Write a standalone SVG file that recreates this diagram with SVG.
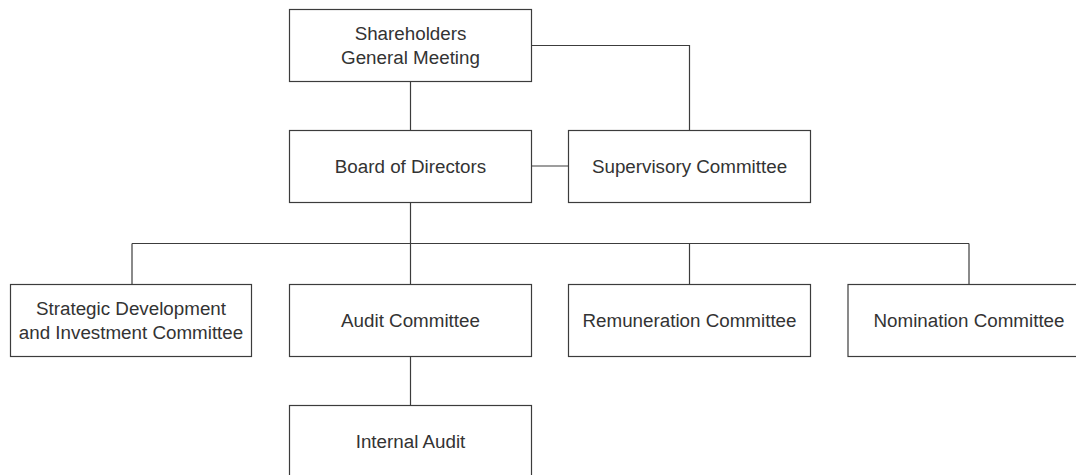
<svg xmlns="http://www.w3.org/2000/svg" width="1076" height="475" viewBox="0 0 1076 475">
  <style>
    .box { fill: #ffffff; stroke: #3c3c3c; stroke-width: 1.2; }
    .link { fill: none; stroke: #3c3c3c; stroke-width: 1.2; }
    .label { font-family: "Liberation Sans", Arial, Helvetica, sans-serif; font-size: 18.8px; fill: #333333; text-anchor: middle; }
  </style>
  <rect width="1076" height="475" fill="#ffffff"/>

  <!-- connectors -->
  <g id="connectors">
    <path class="link" d="M410.5 81.5 V130.5"/>
    <path class="link" d="M531.5 45.5 H689.5 V130.5"/>
    <path class="link" d="M531.5 166 H568.5"/>
    <path class="link" d="M410.5 202.5 V284.5"/>
    <path class="link" d="M132 243.5 H969"/>
    <path class="link" d="M132 243.5 V284.5"/>
    <path class="link" d="M689.5 243.5 V284.5"/>
    <path class="link" d="M969 243.5 V284.5"/>
    <path class="link" d="M410.5 356.5 V405.5"/>
  </g>

  <!-- nodes -->
  <g id="shareholders-general-meeting">
    <rect class="box" x="289.5" y="9.5" width="242" height="72"/>
    <text class="label" x="410.5" y="40">Shareholders</text>
    <text class="label" x="410.5" y="64.3">General Meeting</text>
  </g>
  <g id="board-of-directors">
    <rect class="box" x="289.5" y="130.5" width="242" height="72"/>
    <text class="label" x="410.5" y="172.8">Board of Directors</text>
  </g>
  <g id="supervisory-committee">
    <rect class="box" x="568.5" y="130.5" width="242" height="72"/>
    <text class="label" x="689.5" y="172.8">Supervisory Committee</text>
  </g>
  <g id="strategic-development-committee">
    <rect class="box" x="10.5" y="284.5" width="241" height="72"/>
    <text class="label" x="131" y="315">Strategic Development</text>
    <text class="label" x="131" y="339">and Investment Committee</text>
  </g>
  <g id="audit-committee">
    <rect class="box" x="289.5" y="284.5" width="242" height="72"/>
    <text class="label" x="410.5" y="327">Audit Committee</text>
  </g>
  <g id="remuneration-committee">
    <rect class="box" x="568.5" y="284.5" width="242" height="72"/>
    <text class="label" x="689.5" y="327">Remuneration Committee</text>
  </g>
  <g id="nomination-committee">
    <rect class="box" x="848" y="284.5" width="242" height="72"/>
    <text class="label" x="969" y="327">Nomination Committee</text>
  </g>
  <g id="internal-audit">
    <rect class="box" x="289.5" y="405.5" width="242" height="72"/>
    <text class="label" x="410.5" y="448">Internal Audit</text>
  </g>
</svg>
